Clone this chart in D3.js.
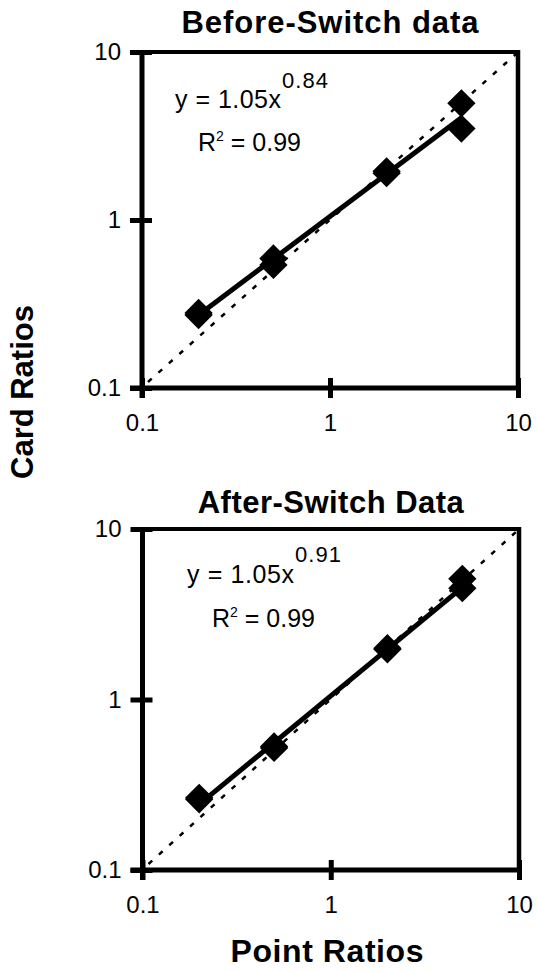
<!DOCTYPE html>
<html><head><meta charset="utf-8">
<script src="https://cdn.jsdelivr.net/npm/d3@7"></script>
<style>
html,body{margin:0;padding:0;background:#fff;}
svg{display:block;font-family:"Liberation Sans",Arial,Helvetica,sans-serif;}
</style></head>
<body>
<svg id="chart" width="537" height="972"></svg>
<script>
// ---- data ----
const panelTitles = ["Before-Switch data", "After-Switch Data"];
const pointRatios = [0.2, 0.2, 0.5, 0.5, 2, 2, 5, 5];
const beforeCardRatios = [0.272, 0.28, 0.54, 0.59, 1.9, 1.95, 4.95, 3.5];
const afterCardRatios = [0.26, 0.265, 0.52, 0.53, 1.97, 2.0, 5.1, 4.5];
const fitCoefficients = [1.05, 1.05];
const fitExponents = [0.84, 0.91];
const rSquared = [0.99, 0.99];
const fitRange = [0.2, 5];
const axisTicks = [0.1, 1, 10];
const axisTickLabels = ["0.1", "1", "10"];
const xAxisTitle = "Point Ratios";
const yAxisTitle = "Card Ratios";

const svg = d3.select("#chart");

const panels = [
  {title: panelTitles[0], ys: beforeCardRatios, a: fitCoefficients[0], b: fitExponents[0], r2: rSquared[0],
   left: 142, right: 518, top: 52, bottom: 388, titleY: 33, titleLen: 297,
   eqX: 175, eqY: 108, eqLen: 106, supLen: 46, supY: 88, rX: 198, rY: 151},
  {title: panelTitles[1], ys: afterCardRatios, a: fitCoefficients[1], b: fitExponents[1], r2: rSquared[1],
   left: 142.5, right: 519, top: 529, bottom: 870, titleY: 513, titleLen: 266,
   eqX: 187, eqY: 583, eqLen: 107, supLen: 46, supY: 562, rX: 212, rY: 627}
];

panels.forEach(p => {
  const x = d3.scaleLog().domain([0.1, 10]).range([p.left, p.right]);
  const y = d3.scaleLog().domain([0.1, 10]).range([p.bottom, p.top]);
  const g = svg.append("g");

  // title
  g.append("text")
    .attr("x", (p.left + p.right) / 2).attr("y", p.titleY)
    .attr("text-anchor", "middle")
    .attr("font-size", 31).attr("font-weight", "bold")
    .attr("textLength", p.titleLen)
    .text(p.title);

  // frame (top & right)
  g.append("line").attr("x1", p.left).attr("x2", p.right).attr("y1", p.top).attr("y2", p.top)
    .attr("stroke", "#000").attr("stroke-width", 4);
  g.append("line").attr("x1", p.right).attr("x2", p.right).attr("y1", p.top - 2).attr("y2", p.bottom)
    .attr("stroke", "#000").attr("stroke-width", 4.5);

  // y axis
  const yAxis = d3.axisLeft(y).tickValues(axisTicks)
    .tickFormat((d, i) => axisTickLabels[i]).tickSize(12).tickSizeOuter(0).tickPadding(9);
  const yg = g.append("g").attr("transform", `translate(${p.left},0)`).call(yAxis);
  yg.select(".domain").attr("stroke-width", 5).attr("d", `M0,${p.top - 2}V${p.bottom + 10}`);
  yg.selectAll(".tick line").attr("x1", 10).attr("stroke-width", 5);
  yg.selectAll(".tick text").attr("font-size", 24).attr("fill", "#000")
    .style("font-family", '"Liberation Sans",Arial,sans-serif');

  // x axis
  const xAxis = d3.axisBottom(x).tickValues(axisTicks)
    .tickFormat((d, i) => axisTickLabels[i]).tickSize(10).tickSizeOuter(0).tickPadding(16);
  const xg = g.append("g").attr("transform", `translate(0,${p.bottom})`).call(xAxis);
  xg.select(".domain").attr("stroke-width", 5).attr("d", `M${p.left - 12},0H${p.right}`);
  xg.selectAll(".tick line").attr("y1", -10).attr("stroke-width", 5);
  xg.selectAll(".tick text").attr("font-size", 24).attr("fill", "#000")
    .style("font-family", '"Liberation Sans",Arial,sans-serif');

  // identity dashed line
  g.append("line")
    .attr("x1", x(0.1) + 6).attr("y1", y(0.1) - 6).attr("x2", x(10) - 2).attr("y2", y(10) + 2)
    .attr("stroke", "#000").attr("stroke-width", 2.5).attr("stroke-dasharray", "5,9");

  // power fit line
  const fitPts = fitRange.map(v => [v, p.a * Math.pow(v, p.b)]);
  g.append("path")
    .attr("d", d3.line().x(d => x(d[0])).y(d => y(d[1]))(fitPts))
    .attr("stroke", "#000").attr("stroke-width", 5).attr("fill", "none");

  // diamonds
  const sym = d3.symbol().type(d3.symbolSquare).size(400);
  g.selectAll("path.pt").data(pointRatios.map((v, i) => [v, p.ys[i]])).enter()
    .append("path").attr("class", "pt")
    .attr("d", sym)
    .attr("transform", d => `translate(${x(d[0])},${y(d[1])}) rotate(45)`)
    .attr("fill", "#000");

  // equation
  g.append("text").attr("x", p.eqX).attr("y", p.eqY).attr("font-size", 25)
    .attr("textLength", p.eqLen).text(`y = ${p.a.toFixed(2)}x`);
  g.append("text").attr("x", p.eqX + p.eqLen + 1).attr("y", p.supY).attr("font-size", 22)
    .attr("textLength", p.supLen).text(p.b.toFixed(2));
  const rt = g.append("text").attr("x", p.rX).attr("y", p.rY).attr("font-size", 25);
  rt.append("tspan").text("R");
  rt.append("tspan").attr("font-size", 14).attr("dy", -10).text("2");
  rt.append("tspan").attr("dy", 10).text(` = ${p.r2.toFixed(2)}`);
});

// axis titles
svg.append("text")
  .attr("transform", "translate(33,392) rotate(-90)")
  .attr("text-anchor", "middle")
  .attr("font-size", 31).attr("font-weight", "bold")
  .attr("textLength", 174)
  .text(yAxisTitle);

svg.append("text")
  .attr("x", 327).attr("y", 962)
  .attr("text-anchor", "middle")
  .attr("font-size", 32).attr("font-weight", "bold")
  .attr("textLength", 193)
  .text(xAxisTitle);
</script>
</body></html>
